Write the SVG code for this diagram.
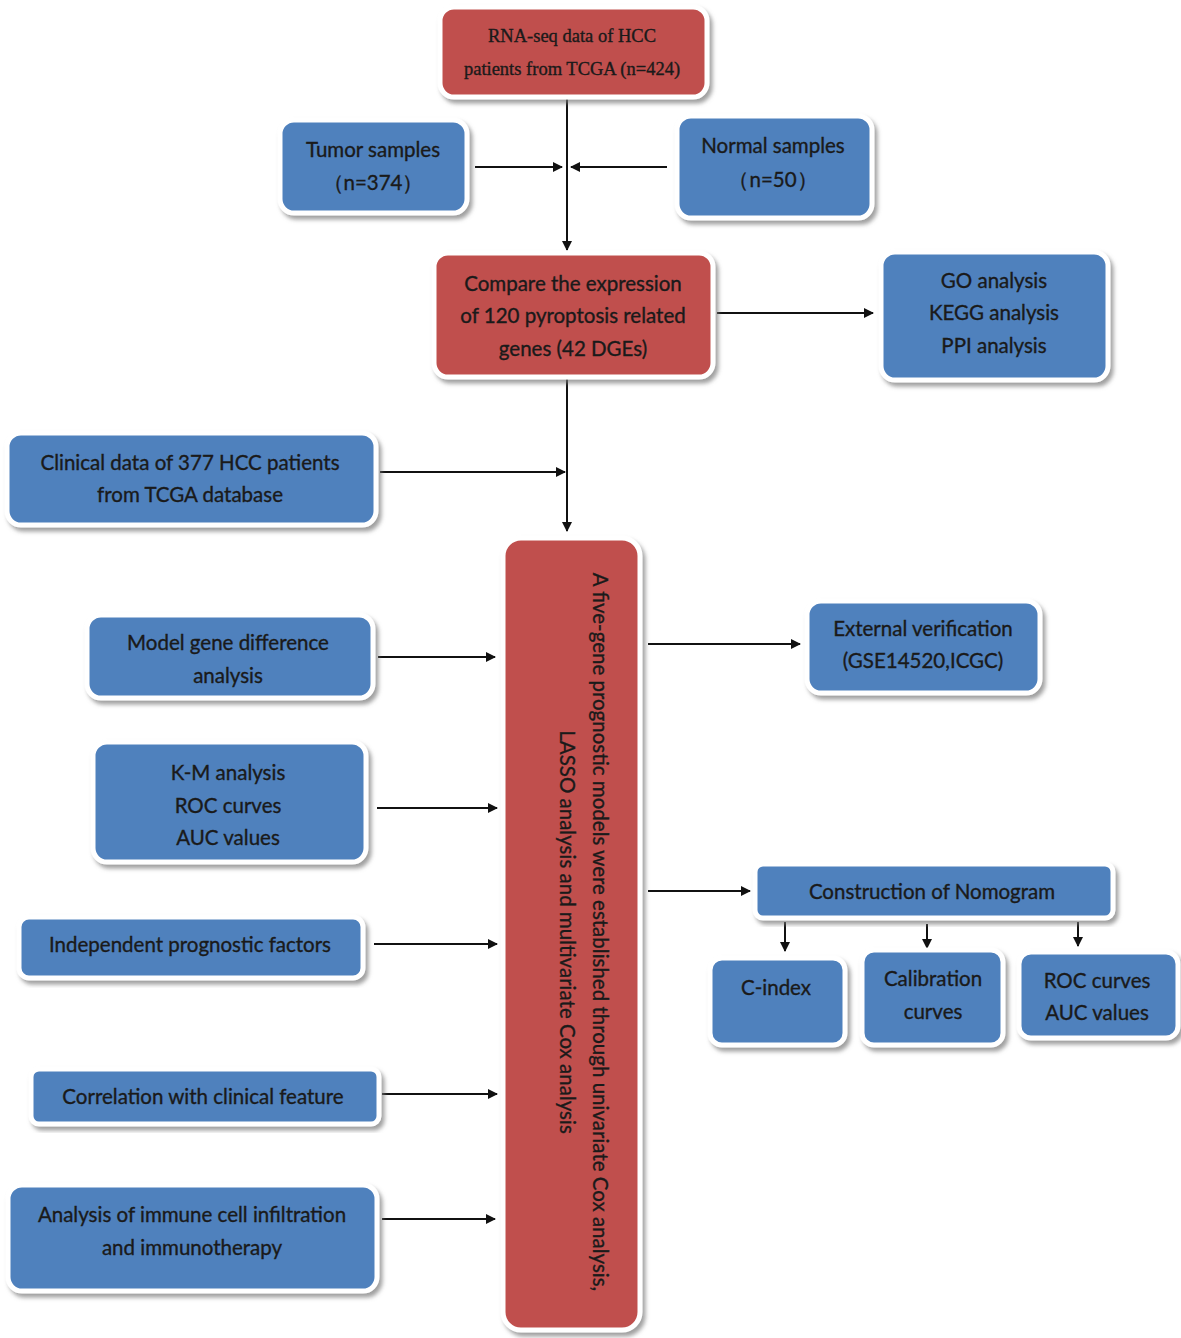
<svg xmlns="http://www.w3.org/2000/svg" width="1181" height="1338" viewBox="0 0 1181 1338">
<defs>
<style>
.b{fill:#4f81bd;stroke:#fff;stroke-width:5;filter:url(#sh)}
.r{fill:#c0504d;stroke:#fff;stroke-width:5;filter:url(#sh)}
text{font-family:Lato,"Open Sans","Liberation Sans",sans-serif;font-size:20.5px;fill:#1a1a1a;stroke:#1a1a1a;stroke-width:0.35;text-anchor:middle}
.sf{font-family:"Liberation Serif",serif;font-size:18.5px}
.rt{font-size:20.5px}
.c{stroke:#111;stroke-width:2;fill:none;marker-end:url(#ah)}
</style>
<filter id="sh" x="-10%" y="-10%" width="125%" height="125%">
<feDropShadow dx="3" dy="4" stdDeviation="2" flood-color="#777" flood-opacity="0.7"/>
</filter>
<marker id="ah" markerWidth="10" markerHeight="10" refX="9" refY="5" orient="auto" markerUnits="userSpaceOnUse">
<path d="M0,0 L10,5 L0,10 z" fill="#111"/>
</marker>
</defs>
<rect width="1181" height="1338" fill="#fff"/>
<g id="connectors">
<path class="c" d="M567,97 V250"/>
<path class="c" d="M475,167 H562"/>
<path class="c" d="M667,167 H571"/>
<path class="c" d="M717,313 H873"/>
<path class="c" d="M567,377 V531"/>
<path class="c" d="M380,472 H565"/>
<path class="c" d="M378,657 H495"/>
<path class="c" d="M377,808 H497"/>
<path class="c" d="M374,944 H497"/>
<path class="c" d="M382,1094 H497"/>
<path class="c" d="M382,1219 H495"/>
<path class="c" d="M648,644 H800"/>
<path class="c" d="M648,891 H750"/>
<path class="c" d="M785,922 V951"/>
<path class="c" d="M927,924 V948"/>
<path class="c" d="M1078,922 V946"/>
</g>
<g id="n1"><rect class="r" x="440" y="7" width="267" height="90" rx="14"/>
<text class="sf" x="572" y="42">RNA-seq data of HCC</text><text class="sf" x="572" y="75">patients from TCGA (n=424)</text></g>
<g id="n2"><rect class="b" x="280" y="120" width="187" height="93" rx="14"/>
<text x="373" y="157">Tumor samples</text><text x="373" y="190">（n=374）</text></g>
<g id="n3"><rect class="b" x="677" y="116" width="195" height="102" rx="14"/>
<text x="773" y="153">Normal samples</text><text x="773" y="187">（n=50）</text></g>
<g id="n4"><rect class="r" x="434" y="253" width="279" height="124" rx="14"/>
<text x="573" y="291">Compare the expression</text><text x="573" y="323">of 120 pyroptosis related</text><text x="573" y="356">genes (42 DGEs)</text></g>
<g id="n5"><rect class="b" x="881" y="252" width="227" height="128" rx="14"/>
<text x="994" y="288">GO analysis</text><text x="994" y="320">KEGG analysis</text><text x="994" y="353">PPI analysis</text></g>
<g id="n6"><rect class="b" x="7" y="433" width="369" height="92" rx="14"/>
<text x="190" y="470">Clinical data of 377 HCC patients</text><text x="190" y="502">from TCGA database</text></g>
<g id="n7"><rect class="r" x="503" y="538" width="137" height="792" rx="18"/>
<text class="rt" transform="translate(593,932) rotate(90)">A five-gene prognostic models were established through univariate Cox analysis,</text>
<text class="rt" transform="translate(560,932) rotate(90)">LASSO analysis and multivariate Cox analysis</text></g>
<g id="n8"><rect class="b" x="87" y="615" width="286" height="83" rx="14"/>
<text x="228" y="650">Model gene difference</text><text x="228" y="683">analysis</text></g>
<g id="n9"><rect class="b" x="93" y="742" width="273" height="120" rx="14"/>
<text x="228" y="780">K-M analysis</text><text x="228" y="813">ROC curves</text><text x="228" y="845">AUC values</text></g>
<g id="n10"><rect class="b" x="19" y="917" width="344" height="61" rx="10"/>
<text x="190" y="952">Independent prognostic factors</text></g>
<g id="n11"><rect class="b" x="31" y="1069" width="348" height="55" rx="8"/>
<text x="203" y="1104">Correlation with clinical feature</text></g>
<g id="n12"><rect class="b" x="8" y="1185" width="369" height="106" rx="14"/>
<text x="192" y="1222">Analysis of immune cell infiltration</text><text x="192" y="1255">and immunotherapy</text></g>
<g id="n13"><rect class="b" x="807" y="601" width="233" height="92" rx="14"/>
<text x="923" y="636">External verification</text><text x="923" y="668">(GSE14520,ICGC)</text></g>
<g id="n14"><rect class="b" x="755" y="864" width="358" height="54" rx="8"/>
<text x="932" y="899">Construction of Nomogram</text></g>
<g id="n15"><rect class="b" x="710" y="958" width="135" height="87" rx="12"/>
<text x="776" y="995">C-index</text></g>
<g id="n16"><rect class="b" x="862" y="950" width="141" height="95" rx="12"/>
<text x="933" y="986">Calibration</text><text x="933" y="1019">curves</text></g>
<g id="n17"><rect class="b" x="1019" y="952" width="159" height="86" rx="12"/>
<text x="1097" y="988">ROC curves</text><text x="1097" y="1020">AUC values</text></g>
</svg>
